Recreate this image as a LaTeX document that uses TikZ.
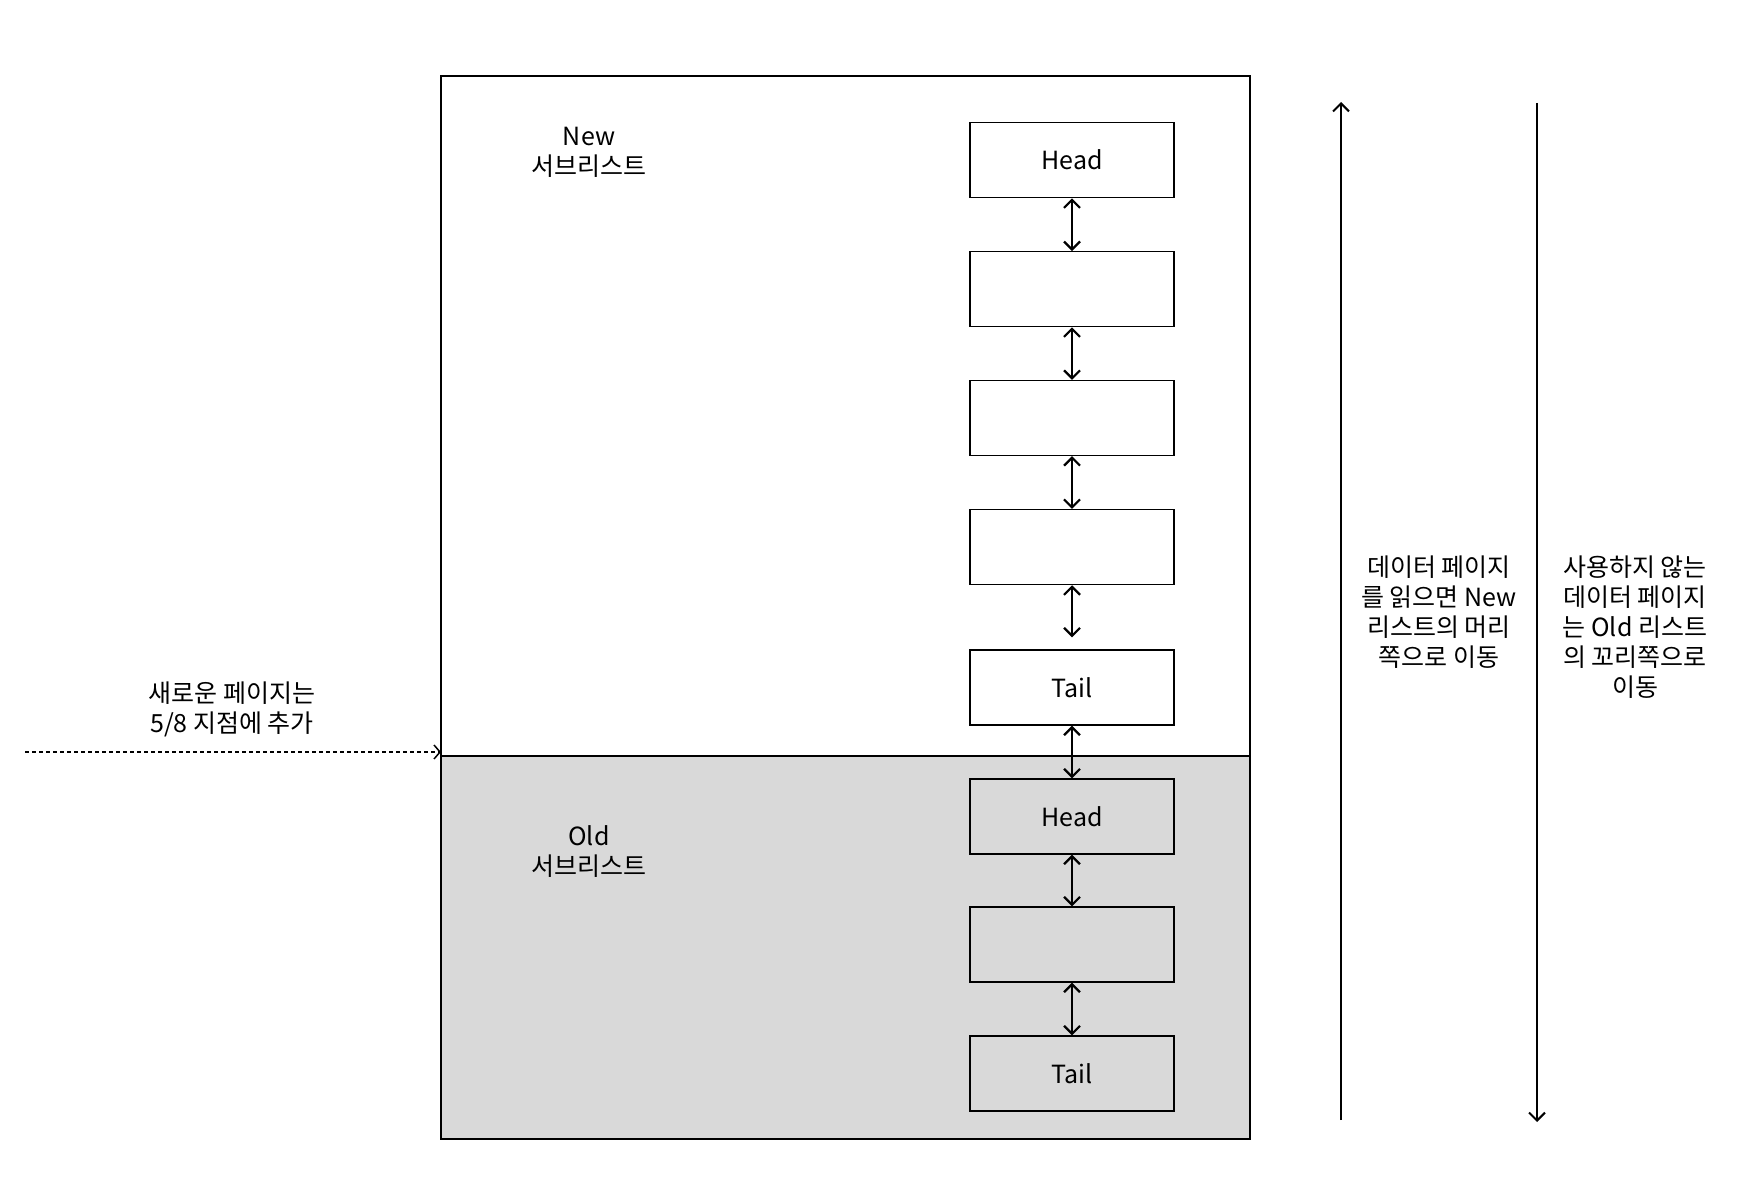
\documentclass[tikz,border=0pt]{standalone}
\usepackage{fontspec}
\setmainfont{Noto Sans CJK KR}
\usetikzlibrary{arrows.meta}
\definecolor{oldgray}{HTML}{D9D9D9}
\begin{document}
\begin{tikzpicture}[x=1pt,y=-1pt,
  page/.style={draw,line width=1.3pt,minimum width=204pt,minimum height=75pt,inner sep=0pt,font=\fontsize{25}{30}\selectfont},
  link/.style={line width=2.2pt,{Straight Barb[length=8pt,width=16pt]}-{Straight Barb[length=8pt,width=16pt]}},
  lbl/.style={align=center,font=\fontsize{25}{30}\selectfont}]
\useasboundingbox (0,0) rectangle (1760,1182);
% buffer pool with the old part shaded
\fill[oldgray] (441,756) rectangle (1250,1139);
\draw[line width=1.3pt] (441,76) rectangle (1250,1139);
\draw[line width=1.3pt] (441,756) -- (1250,756);
\node[lbl] (newsub) at (589,152) {New\\서브리스트};
\node[lbl] (oldsub) at (589,852) {Old\\서브리스트};
% edit here for the pages
\foreach \i/\y/\t in {1/160.2/Head,2/289.2/,3/418/,4/547.1/,5/687.5/Tail,6/816.5/Head,7/944.5/,8/1073.5/Tail}
\node[page] (p\i) at (1072,\y) {\t};
\foreach \a/\b in {p1/p2,p2/p3,p3/p4,p5/p6,p6/p7,p7/p8} % edit here for the links
\draw[link] (\a) -- (\b);
\draw[link,shorten >=12pt] (p4) -- (p5);
% insert point
\coordinate (insstart) at (25,752);
\coordinate (insend) at (441,752);
\draw[line width=1.5pt,dash pattern=on 4pt off 3pt,-{Straight Barb[length=6pt,width=14pt]}] (insstart) -- (insend);
\node[lbl] (instext) at (232,709) {새로운 페이지는\\5/8 지점에 추가};
% direction arrows
\coordinate (upbot) at (1341,1120);
\coordinate (uptop) at (1341,102);
\coordinate (downtop) at (1537,103);
\coordinate (downbot) at (1537,1122);
\draw[line width=2pt,-{Straight Barb[length=8pt,width=16pt]}] (upbot) -- (uptop);
\draw[line width=2pt,-{Straight Barb[length=8pt,width=16pt]}] (downtop) -- (downbot);
\node[lbl] (uptext) at (1439,612.5) {데이터 페이지\\를 읽으면 New\\리스트의 머리\\쪽으로 이동};
\node[lbl] (downtext) at (1635,627.5) {사용하지 않는\\데이터 페이지\\는 Old 리스트\\의 꼬리쪽으로\\이동};
\end{tikzpicture}
\end{document}
